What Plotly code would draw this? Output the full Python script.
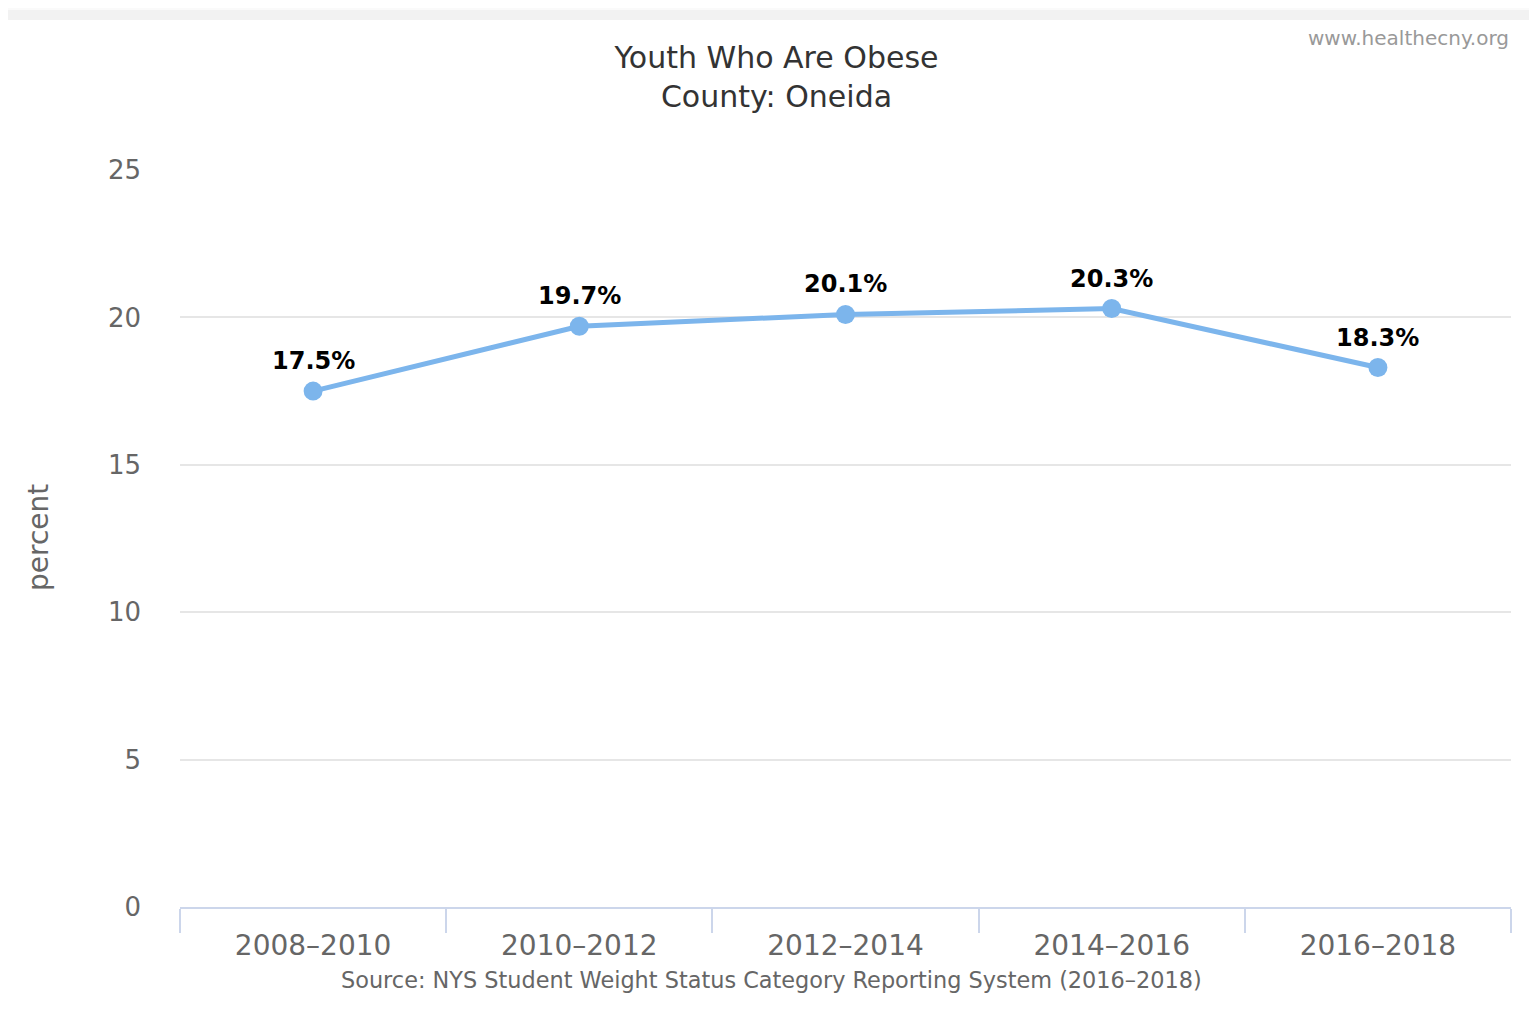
import plotly.graph_objects as go

categories = ["2008–2010", "2010–2012", "2012–2014", "2014–2016", "2016–2018"]
values = [17.5, 19.7, 20.1, 20.3, 18.3]
labels = ["17.5%", "19.7%", "20.1%", "20.3%", "18.3%"]
y_ticks = [0, 5, 10, 15, 20, 25]

W, H = 1537, 1036
OFF = 8  # page body margin
L, T = 180 - OFF, 170 - OFF
R = W - (1511 - OFF)
B = H - (907 - OFF)
pw, ph = W - L - R, H - T - B

def px_x(x):
    return (x - OFF - L) / pw

def px_y(y):
    return (H - B - (y - OFF)) / ph

FONT = "DejaVu Sans"

fig = go.Figure()
fig.add_trace(go.Scatter(
    x=categories, y=values, mode="lines+markers",
    line=dict(color="#7cb5ec", width=5),
    marker=dict(color="#7cb5ec", size=19),
    cliponaxis=False, hoverinfo="skip",
))

for c, v, t in zip(categories, values, labels):
    fig.add_annotation(x=c, y=v, text=t, showarrow=False, yshift=30,
                       xanchor="center", yanchor="middle",
                       font=dict(family=FONT, size=24, color="#000000", weight="bold"))

shapes = [
    dict(type="rect", xref="paper", yref="paper",
         x0=px_x(-20), x1=px_x(W + 20), y0=px_y(H + 20), y1=px_y(20),
         fillcolor="white", line=dict(width=0), layer="below"),
    dict(type="rect", xref="paper", yref="paper",
         x0=px_x(-20), x1=px_x(W + 20), y0=px_y(10), y1=px_y(-20),
         fillcolor="#fafafa", line=dict(width=0), layer="below"),
]

fig.update_layout(
    width=W, height=H,
    margin=dict(l=L, r=R, t=T, b=B),
    paper_bgcolor="#f2f2f2", plot_bgcolor="white",
    showlegend=False,
    shapes=shapes,
    title=dict(text="Youth Who Are Obese<br>County: Oneida",
               x=0.5, xref="container", xanchor="center",
               y=1 - 60 / H, yref="container", yanchor="top",
               font=dict(family=FONT, size=30, color="#333333")),
    font=dict(family=FONT),
)

fig.update_xaxes(
    type="category", tickson="boundaries",
    ticks="outside", ticklen=24, tickwidth=2, tickcolor="#ccd6eb",
    showline=True, linecolor="#ccd6eb", linewidth=2,
    showgrid=False, zeroline=False,
    ticklabelstandoff=12,
    tickfont=dict(family=FONT, size=28, color="#666666"),
    range=[-0.5, 4.5],
)
fig.update_yaxes(
    range=[0, 25], tickvals=y_ticks, ticktext=[str(v) for v in y_ticks],
    showgrid=True, gridcolor="#e6e6e6", gridwidth=2,
    zeroline=False, showline=False, ticks="",
    ticklabelstandoff=38,
    tickfont=dict(family=FONT, size=26, color="#666666"),
)

fig.add_annotation(text="percent", textangle=-90,
                   xref="paper", yref="paper", x=px_x(38), y=px_y(538),
                   xanchor="center", yanchor="middle", showarrow=False,
                   font=dict(family=FONT, size=28, color="#666666"))
fig.add_annotation(text="Source: NYS Student Weight Status Category Reporting System (2016–2018)",
                   xref="paper", yref="paper", x=px_x(771), y=px_y(980),
                   xanchor="center", yanchor="middle", showarrow=False,
                   font=dict(family=FONT, size=22.4, color="#666666"))
fig.add_annotation(text="www.healthecny.org",
                   xref="paper", yref="paper", x=px_x(1511), y=px_y(38),
                   xanchor="right", yanchor="middle", showarrow=False,
                   font=dict(family=FONT, size=20, color="#999999"))

fig.write_html("out.html")
